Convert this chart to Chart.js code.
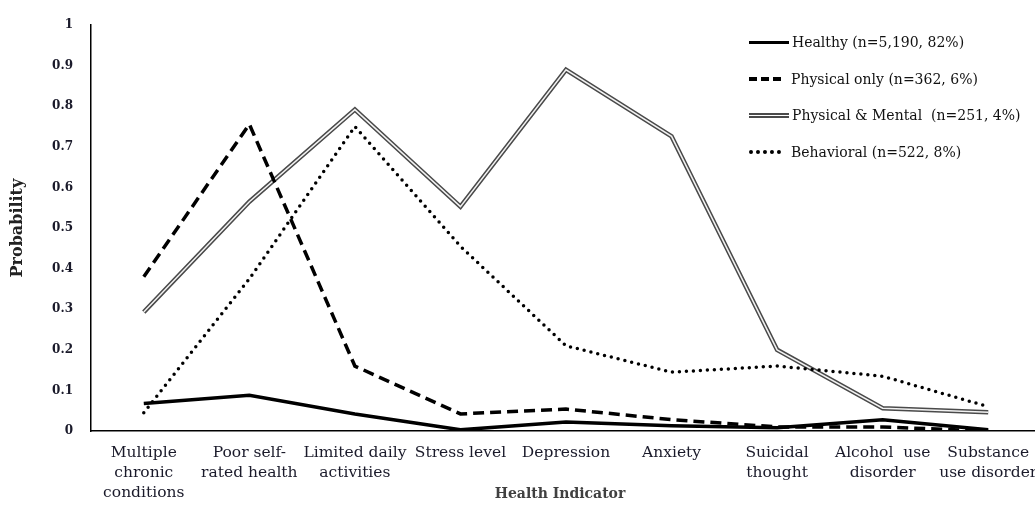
<!DOCTYPE html>
<html>
<head>
<meta charset="utf-8">
<script src="https://cdn.jsdelivr.net/npm/chart.js@4.4.1/dist/chart.umd.min.js"></script>
<style>
  html, body { margin: 0; padding: 0; background: #fff; overflow: hidden; }
  #wrap { position: relative; width: 1035px; height: 506px; overflow: hidden; }
  #legend { position: absolute; left: 749px; top: 24px; font: 14px "DejaVu Serif", serif; color: #111; }
  .row { height: 36.5px; display: flex; align-items: center; white-space: pre; }
  .sym { width: 40px; margin-right: 3px; }
  #xtitle { position: absolute; left: 460px; width: 200px; top: 485px;
            text-align: center; font: bold 14px "DejaVu Serif", serif; color: #404040; }
</style>
</head>
<body>
<div id="wrap">
  <canvas id="chart" width="1041" height="506"></canvas>
  <div id="legend"></div>
  <div id="xtitle">Health Indicator</div>
</div>
<script>
// categorias e valores
const categorias = [
  ['Multiple', 'chronic', 'conditions'],
  ['Poor self-', 'rated health'],
  ['Limited daily', 'activities'],
  ['Stress level'],
  ['Depression'],
  ['Anxiety'],
  ['Suicidal', 'thought'],
  ['Alcohol  use', 'disorder'],
  ['Substance', 'use disorder']
];
const nomes = ['Healthy (n=5,190, 82%)', 'Physical only (n=362, 6%)', 'Physical & Mental  (n=251, 4%)', 'Behavioral (n=522, 8%)'];
const healthy    = [0.068, 0.088, 0.042, 0.003, 0.022, 0.013, 0.008, 0.028, 0.003];
const fisico     = [0.38, 0.756, 0.16, 0.042, 0.054, 0.028, 0.01, 0.01, 0.0];
const fisMental  = [0.293, 0.565, 0.792, 0.553, 0.89, 0.726, 0.2, 0.056, 0.046];
const comport    = [0.045, 0.375, 0.75, 0.455, 0.21, 0.145, 0.16, 0.135, 0.06];
const yTicks     = [0, 0.1, 0.2, 0.3, 0.4, 0.5, 0.6, 0.7, 0.8, 0.9, 1];

const serif = '"DejaVu Serif", serif';

const ctx = document.getElementById('chart').getContext('2d');
const chart = new Chart(ctx, {
  type: 'line',
  data: {
    labels: categorias,
    datasets: [
      { label: nomes[0], data: healthy, borderColor: '#000', borderWidth: 3.5, order: 1 },
      { label: nomes[1], data: fisico, borderColor: '#000', borderWidth: 3.5, borderDash: [11, 6], order: 2 },
      // linha dupla: contorno escuro + miolo claro
      { label: nomes[2], data: fisMental, borderColor: '#4a4a4a', borderWidth: 4.5, borderJoinStyle: 'miter', order: 4 },
      { label: '_inner', data: fisMental, borderColor: '#f2f2f2', borderWidth: 1.5, borderJoinStyle: 'miter', order: 3 },
      { label: nomes[3], data: comport, borderColor: '#000', borderWidth: 3.5, borderDash: [0, 7], borderCapStyle: 'round', order: 2 }
    ]
  },
  options: {
    responsive: false,
    animation: false,
    elements: { point: { radius: 0 }, line: { tension: 0, fill: false } },
    layout: { padding: { top: 22, right: 0, left: 8, bottom: 0 } },
    plugins: { legend: { display: false }, tooltip: { enabled: false } },
    scales: {
      x: {
        offset: true,
        grid: { display: false, drawTicks: false },
        border: { color: '#000', width: 1.5 },
        ticks: { padding: 12, color: '#1a1a2a', maxRotation: 0, autoSkip: false,
                 font: { family: serif, size: 15.5, lineHeight: 1.3 } },
        afterFit: s => { s.height = 75; s.paddingLeft = 0; s.paddingRight = 0; }
      },
      y: {
        min: 0, max: 1,
        afterBuildTicks: s => { s.ticks = yTicks.map(v => ({ value: v })); },
        grid: { display: false, drawTicks: false },
        border: { color: '#000', width: 1.5 },
        title: { display: true, text: 'Probability', color: '#222', padding: { top: 0, bottom: 12 },
                 font: { family: serif, size: 16, weight: 'bold' } },
        ticks: { padding: 18, color: '#1a1a2a', font: { family: serif, size: 12, weight: 'bold' },
                 callback: v => String(+v.toFixed(1)) },
        afterFit: s => { s.width = 83; }
      }
    }
  }
});

// legenda em html (simbolos com bordas css)
const estilos = ['3.5px solid #000', '4px dashed #000', '5px double #4a4a4a', '4px dotted #000'];
const leg = document.getElementById('legend');
nomes.forEach((n, i) => {
  const row = document.createElement('div');
  row.className = 'row';
  const sym = document.createElement('span');
  sym.className = 'sym';
  sym.style.borderTop = estilos[i];
  if (i === 1 || i === 3) { sym.style.width = '32px'; sym.style.marginRight = '10px'; }
  row.appendChild(sym);
  row.appendChild(document.createTextNode(n));
  leg.appendChild(row);
});
</script>
</body>
</html>
